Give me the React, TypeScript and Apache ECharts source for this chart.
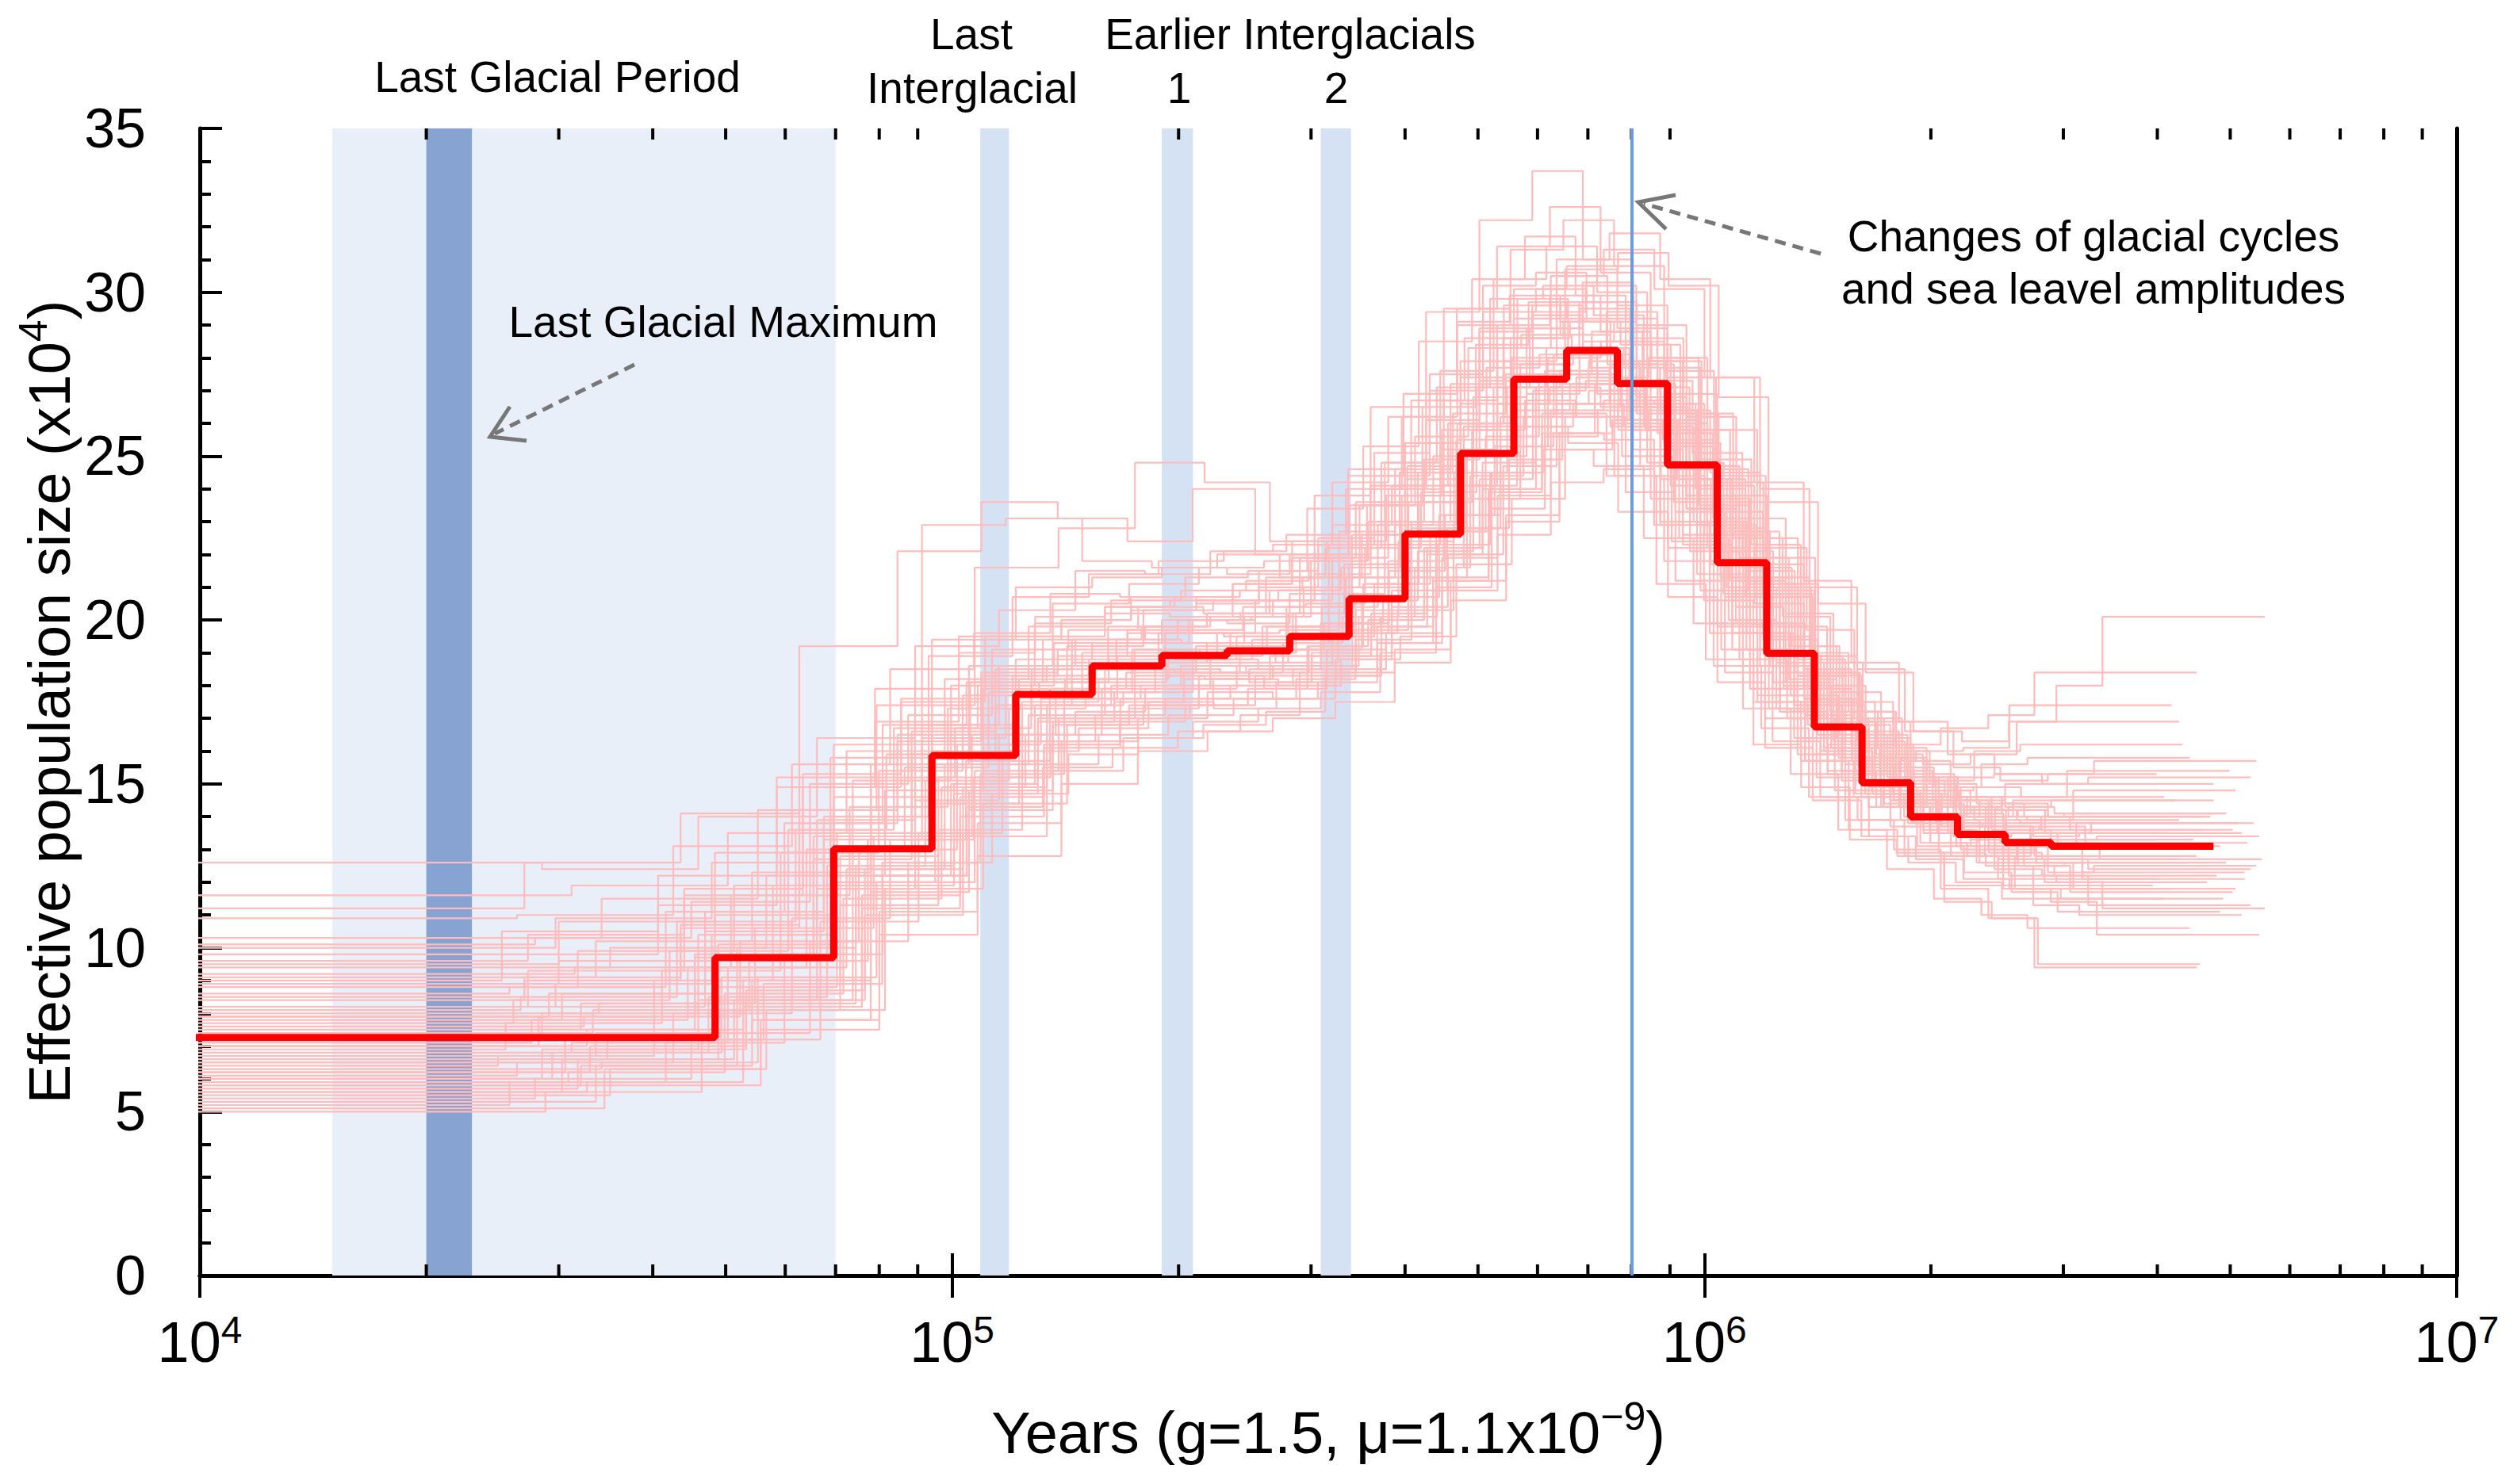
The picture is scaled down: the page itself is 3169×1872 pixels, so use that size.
import { useEffect, useRef } from 'react';
import * as echarts from 'echarts';

const FONT = "'Liberation Sans', Arial, Helvetica, sans-serif";

// main PSMC curve: step edges in years, Ne in units of 10^4
const redEdges = [
  5000, 48400, 69600, 94000, 121500, 153500, 190000, 232000, 281000, 337000, 400000, 474000, 558000,
  656000, 766000, 893000, 1040000, 1210000, 1400000, 1620000, 1880000, 2170000, 2510000, 2890000, 4750000,
];
const redValues = [
  7.26, 9.7, 13.02, 15.87, 17.73, 18.6, 18.92, 19.06, 19.5, 20.65, 22.62, 25.08, 27.35, 28.23, 27.22,
  24.73, 21.75, 18.98, 16.74, 15.03, 13.99, 13.46, 13.21, 13.1,
];

// bootstrap replicates: shared step edges, a time scale per replicate, values read per replicate
const bootEdges = [
  5000, 30000, 48400, 69600, 94000, 121500, 153500, 190000, 232000, 281000, 337000, 400000, 474000, 558000,
  656000, 766000, 893000, 1040000, 1210000, 1400000, 1620000, 1880000, 2170000, 2510000, 2890000, 4750000,
];
const bootScales = [
  1.1, 0.9, 1.12, 0.93, 0.85, 1.06, 0.97, 1.15, 0.88, 1.02,
  1.08, 0.83, 1.0, 0.94, 1.17, 0.95, 0.98, 1.13, 0.96, 0.86,
  1.04, 1.11, 0.91, 1.03, 0.87, 1.14, 1.05, 0.92, 1.09, 0.99,
  0.9, 1.17, 0.95, 1.01, 1.07, 0.84, 1.12, 0.94, 1.16, 0.89,
  1.0, 0.93, 1.06, 0.88, 1.14, 0.97, 1.09, 0.91, 1.02, 1.12,
  0.86, 1.04, 0.95, 1.1, 0.99, 1.15, 0.9, 1.07, 0.84, 1.01,
];
const bootValues = [
  [6.2, 6.9, 8.7, 12.4, 14.9, 17.4, 17.8, 18.8, 18.5, 19.9, 20.1, 22.7, 24.5, 27.6, 27.4, 28.0, 24.6, 22.5, 18.8, 17.5, 14.7, 14.5, 12.9, 13.2, 12.1],
  [8.4, 9.1, 10.6, 14.2, 16.3, 18.4, 18.9, 19.7, 19.6, 20.6, 21.4, 24.0, 26.1, 28.8, 29.3, 28.3, 25.2, 22.3, 19.1, 17.2, 15.3, 14.7, 14.1, 14.2, 13.9],
  [5.3, 6.4, 7.8, 11.7, 14.2, 16.8, 17.3, 18.3, 18.0, 19.1, 19.6, 21.9, 23.8, 26.4, 26.7, 26.6, 24.1, 21.7, 18.5, 16.6, 14.3, 13.7, 12.4, 12.2, 11.3],
  [10.1, 10.3, 11.4, 15.0, 17.1, 19.1, 19.7, 20.4, 20.2, 21.3, 22.2, 24.8, 27.1, 29.8, 30.2, 29.3, 25.9, 23.0, 19.6, 17.7, 15.8, 15.5, 14.9, 15.6, 15.8],
  [6.9, 7.7, 9.3, 12.9, 15.4, 17.7, 18.1, 18.9, 18.8, 19.5, 20.2, 22.6, 24.7, 27.4, 27.8, 27.2, 24.4, 21.8, 18.6, 16.7, 14.6, 13.9, 12.8, 12.8, 12.1],
  [5.7, 6.6, 8.4, 12.2, 15.0, 17.4, 18.0, 18.6, 18.4, 19.2, 20.0, 22.2, 24.3, 27.0, 27.3, 26.8, 23.8, 21.2, 18.1, 16.3, 14.3, 13.6, 12.6, 12.5, 11.7],
  [7.9, 8.2, 10.5, 13.3, 16.4, 17.7, 19.0, 19.0, 19.6, 19.7, 21.3, 23.0, 26.0, 27.9, 29.2, 27.8, 25.7, 22.2, 19.8, 17.1, 15.8, 14.4, 14.3, 13.7, 14.0],
  [5.1, 5.8, 7.5, 11.1, 13.8, 16.3, 17.0, 17.8, 17.6, 18.4, 19.1, 21.2, 23.2, 25.7, 26.1, 25.8, 23.1, 20.7, 17.6, 15.8, 13.8, 13.1, 11.8, 11.4, 10.4],
  [10.9, 11.0, 13.1, 15.6, 18.5, 19.6, 20.8, 20.7, 21.3, 21.5, 23.4, 25.3, 28.5, 30.4, 31.7, 29.9, 27.2, 23.3, 20.7, 17.9, 16.8, 15.7, 16.0, 16.1, 17.4],
  [6.5, 7.3, 9.1, 12.8, 15.2, 17.5, 18.2, 19.0, 19.0, 19.8, 20.6, 23.0, 25.1, 27.8, 28.3, 27.8, 24.8, 22.1, 18.9, 17.0, 14.9, 14.4, 13.4, 13.5, 13.1],
  [7.6, 7.9, 10.2, 13.0, 16.2, 17.6, 18.9, 18.8, 19.4, 19.5, 21.1, 22.7, 25.6, 27.5, 28.8, 27.3, 25.1, 21.6, 19.2, 16.5, 15.2, 13.8, 13.7, 13.2, 13.8],
  [6.4, 6.7, 9.0, 11.9, 15.2, 16.7, 18.1, 18.1, 18.7, 18.7, 20.2, 21.7, 24.5, 26.3, 27.5, 26.3, 24.4, 21.1, 18.8, 16.2, 14.9, 13.3, 12.9, 11.9, 11.9],
  [8.9, 9.6, 11.0, 14.6, 16.8, 18.8, 19.3, 20.0, 19.9, 20.8, 21.7, 24.3, 26.6, 29.2, 29.7, 28.9, 25.7, 22.8, 19.5, 17.6, 15.6, 15.2, 14.5, 15.0, 15.0],
  [7.3, 7.5, 9.8, 12.7, 15.9, 17.4, 18.7, 18.7, 19.3, 19.3, 20.8, 22.3, 25.2, 27.1, 28.3, 26.9, 24.8, 21.4, 19.1, 16.4, 15.1, 13.7, 13.5, 12.8, 13.1],
  [5.5, 6.3, 8.1, 11.8, 14.4, 16.8, 17.4, 18.2, 18.0, 18.8, 19.5, 21.7, 23.7, 26.2, 26.6, 26.3, 23.6, 21.1, 18.0, 16.2, 14.1, 13.4, 12.2, 12.0, 11.2],
  [12.6, 12.4, 14.0, 16.4, 19.2, 20.3, 21.5, 21.4, 22.1, 22.3, 24.2, 26.2, 29.5, 31.4, 32.6, 30.6, 27.7, 23.7, 21.1, 18.3, 17.2, 16.2, 16.7, 17.1, 18.4],
  [6.0, 6.8, 8.5, 12.5, 15.1, 17.3, 17.8, 18.5, 18.4, 19.3, 20.1, 22.4, 24.5, 27.1, 27.6, 27.2, 24.3, 21.7, 18.6, 16.8, 14.7, 14.0, 12.8, 12.7, 12.0],
  [8.0, 8.3, 10.6, 13.4, 16.5, 17.8, 19.1, 19.1, 19.8, 19.9, 21.5, 23.2, 26.2, 28.1, 29.4, 28.0, 25.8, 22.2, 19.7, 17.0, 15.7, 14.3, 14.2, 13.5, 13.8],
  [5.0, 5.6, 7.2, 10.8, 13.5, 16.0, 16.7, 17.5, 17.3, 18.1, 18.8, 20.9, 22.8, 25.3, 25.7, 25.5, 22.9, 20.6, 17.5, 15.7, 13.6, 12.8, 11.4, 10.9, 9.5],
  [8.6, 8.8, 11.1, 13.8, 16.8, 18.1, 19.4, 19.4, 20.0, 20.2, 21.9, 23.6, 26.7, 28.6, 29.8, 28.2, 25.8, 22.2, 19.8, 17.0, 15.9, 14.6, 14.6, 14.1, 14.6],
  [6.8, 7.1, 9.4, 12.4, 15.6, 17.1, 18.5, 18.4, 19.1, 19.1, 20.6, 22.1, 25.0, 26.9, 28.1, 26.7, 24.6, 21.2, 18.9, 16.2, 14.9, 13.5, 13.3, 12.5, 12.6],
  [7.4, 8.1, 9.6, 13.3, 15.7, 17.9, 18.4, 19.2, 19.1, 19.9, 20.7, 23.2, 25.3, 28.0, 28.5, 27.9, 24.9, 22.3, 19.0, 17.2, 15.1, 14.6, 13.6, 13.7, 13.2],
  [9.6, 10.4, 11.8, 15.3, 17.5, 19.5, 20.0, 20.7, 20.5, 21.5, 22.5, 25.1, 27.5, 30.2, 30.6, 29.7, 26.3, 23.4, 19.9, 18.0, 16.1, 15.8, 15.1, 16.0, 16.2],
  [5.9, 6.2, 8.6, 11.5, 14.9, 16.5, 17.9, 17.9, 18.6, 18.6, 20.1, 21.6, 24.4, 26.2, 27.4, 26.1, 24.3, 21.0, 18.7, 16.1, 14.8, 13.2, 12.8, 11.8, 11.5],
  [7.7, 8.4, 9.9, 13.6, 15.9, 18.1, 18.6, 19.4, 19.3, 20.1, 21.0, 23.5, 25.6, 28.3, 28.7, 28.1, 25.0, 22.4, 19.1, 17.3, 15.2, 14.7, 13.8, 14.0, 13.5],
  [6.3, 6.5, 9.1, 12.0, 15.4, 17.0, 18.3, 18.2, 18.9, 18.9, 20.4, 22.0, 24.7, 26.6, 27.7, 26.4, 24.5, 21.3, 18.9, 16.3, 14.9, 13.4, 13.2, 12.3, 12.5],
  [9.2, 9.4, 11.6, 14.3, 17.3, 18.5, 19.8, 19.7, 20.4, 20.5, 22.2, 23.9, 27.1, 28.9, 30.3, 28.6, 26.3, 22.5, 20.1, 17.2, 16.1, 14.8, 14.9, 14.6, 15.4],
  [7.1, 7.8, 9.4, 13.0, 15.5, 17.8, 18.2, 19.1, 18.9, 19.8, 20.4, 22.9, 25.0, 27.7, 28.1, 27.7, 24.7, 22.1, 18.8, 17.0, 14.8, 14.3, 13.2, 13.3, 12.6],
  [5.6, 5.9, 8.2, 11.2, 14.6, 16.2, 17.6, 17.6, 18.3, 18.3, 19.8, 21.2, 24.0, 25.7, 27.0, 25.8, 24.0, 20.7, 18.4, 15.8, 14.5, 12.9, 12.5, 11.3, 11.0],
  [8.2, 8.9, 10.4, 14.0, 16.2, 18.3, 18.8, 19.6, 19.5, 20.4, 21.3, 23.8, 26.0, 28.6, 29.1, 28.5, 25.3, 22.6, 19.4, 17.5, 15.5, 15.0, 14.3, 14.4, 14.0],
  [11.2, 12.6, 14.1, 19.2, 22.1, 23.6, 23.1, 22.4, 24.0, 22.0, 23.8, 26.5, 29.4, 32.2, 33.7, 31.0, 27.9, 24.3, 20.8, 18.4, 16.9, 15.9, 15.6, 15.9, 16.9],
  [9.4, 10.0, 12.2, 14.8, 17.9, 19.2, 20.3, 20.6, 20.9, 21.6, 22.9, 25.5, 28.0, 30.7, 31.2, 30.2, 26.8, 23.6, 20.5, 18.4, 16.6, 16.3, 16.9, 18.0, 20.1],
  [6.0, 6.9, 8.4, 11.8, 14.5, 16.5, 17.2, 17.9, 18.2, 18.6, 19.6, 21.8, 24.1, 26.6, 27.1, 26.5, 23.7, 20.9, 17.9, 15.9, 13.9, 13.0, 11.8, 10.9, 9.4],
  [7.8, 8.6, 10.1, 13.5, 16.0, 18.2, 18.5, 19.6, 19.2, 20.2, 21.0, 23.6, 25.9, 28.6, 29.1, 28.4, 25.4, 22.7, 19.4, 17.4, 15.4, 14.9, 14.0, 14.3, 14.1],
  [5.8, 6.4, 8.3, 11.9, 14.7, 16.9, 17.5, 18.4, 18.1, 18.9, 19.8, 22.0, 24.0, 26.6, 27.0, 26.5, 23.7, 21.3, 18.2, 16.4, 14.4, 13.9, 12.6, 12.6, 11.8],
  [9.0, 9.8, 11.3, 14.9, 16.9, 19.0, 19.5, 20.2, 20.1, 21.1, 21.9, 24.6, 26.9, 29.5, 29.9, 29.1, 25.9, 23.0, 19.6, 17.7, 15.7, 15.3, 14.6, 15.2, 15.3],
  [6.7, 7.4, 9.0, 12.2, 14.8, 16.9, 17.4, 18.0, 17.9, 18.5, 19.3, 20.9, 22.6, 24.2, 24.6, 24.4, 22.6, 20.5, 17.9, 16.2, 14.5, 13.8, 12.9, 12.7, 12.4],
  [7.0, 7.9, 9.7, 13.4, 16.6, 18.5, 19.4, 19.8, 20.2, 20.9, 22.3, 24.8, 27.6, 30.4, 31.4, 30.0, 26.4, 23.0, 19.6, 17.4, 15.4, 14.5, 13.7, 13.5, 13.3],
  [6.6, 7.2, 8.9, 12.6, 15.3, 17.6, 18.0, 19.0, 18.7, 19.6, 20.3, 22.8, 24.9, 27.5, 27.9, 27.4, 24.4, 21.9, 18.7, 16.9, 14.8, 14.2, 13.1, 13.2, 12.7],
  [8.1, 8.5, 10.8, 13.6, 16.7, 18.0, 19.3, 19.3, 20.0, 20.1, 21.8, 23.5, 26.5, 28.4, 29.7, 28.3, 26.1, 22.5, 20.0, 17.3, 16.0, 14.7, 14.6, 14.0, 14.5],
  [9.5, 10.8, 12.9, 16.2, 19.4, 21.0, 21.3, 21.6, 21.4, 22.0, 23.5, 25.4, 27.9, 30.1, 30.8, 29.6, 26.9, 23.8, 20.9, 18.3, 16.4, 15.2, 14.6, 14.3, 14.5],
  [5.4, 6.0, 7.4, 10.2, 12.6, 14.7, 15.9, 16.4, 16.8, 17.2, 18.3, 20.1, 22.3, 24.5, 25.2, 24.7, 22.5, 19.9, 17.3, 15.3, 13.6, 12.4, 11.5, 11.0, 10.6],
  [8.8, 9.9, 11.9, 15.1, 18.0, 19.9, 20.6, 20.9, 21.2, 21.8, 23.0, 24.9, 27.3, 29.4, 30.2, 29.0, 26.2, 23.1, 20.2, 17.8, 16.0, 15.0, 14.4, 14.0, 13.6],
  [6.1, 6.5, 8.0, 10.9, 13.3, 15.2, 16.2, 16.9, 17.4, 17.9, 19.2, 21.1, 23.6, 25.8, 26.7, 26.2, 23.9, 21.2, 18.4, 16.3, 14.6, 13.4, 12.7, 12.1, 11.8],
  [10.3, 11.5, 14.2, 17.4, 21.6, 22.8, 24.8, 24.2, 22.4, 22.9, 24.1, 26.0, 28.6, 31.0, 31.8, 30.4, 27.4, 24.0, 21.0, 18.5, 16.6, 15.5, 15.1, 15.3, 15.7],
  [7.9, 8.6, 11.1, 14.0, 22.9, 23.1, 21.8, 21.6, 22.0, 21.3, 22.7, 24.6, 27.2, 29.6, 30.5, 29.2, 26.0, 22.9, 19.9, 17.6, 15.7, 14.7, 14.0, 13.8, 13.6],
  [7.0, 7.5, 9.0, 11.6, 14.0, 16.1, 17.0, 17.4, 17.6, 18.1, 19.3, 21.3, 23.9, 26.3, 27.2, 26.6, 24.3, 21.5, 18.9, 16.8, 15.2, 14.3, 13.7, 13.4, 13.5],
  [8.2, 9.3, 11.6, 14.9, 17.6, 19.4, 20.0, 20.3, 20.6, 21.0, 22.3, 24.4, 27.0, 29.4, 30.1, 29.1, 26.5, 23.4, 20.4, 17.9, 16.1, 15.0, 14.3, 13.9, 13.8],
  [6.2, 6.8, 8.1, 11.3, 13.6, 15.6, 16.5, 17.1, 17.6, 18.2, 19.4, 21.3, 23.7, 25.9, 26.6, 25.9, 23.6, 20.8, 18.1, 16.0, 14.3, 13.1, 12.3, 11.7, 11.1],
  [9.1, 10.2, 12.3, 15.6, 18.6, 20.5, 21.1, 21.6, 21.8, 22.4, 23.8, 25.8, 28.3, 30.5, 31.3, 30.1, 27.4, 24.2, 21.2, 18.7, 16.9, 15.9, 15.3, 15.0, 15.2],
  [5.2, 5.9, 7.1, 9.8, 12.2, 14.3, 15.5, 16.1, 16.6, 17.1, 18.4, 20.3, 22.8, 25.0, 25.9, 25.4, 23.3, 20.7, 18.1, 16.1, 14.5, 13.4, 12.6, 12.0, 11.5],
  [11.6, 11.9, 13.5, 16.0, 18.2, 19.8, 20.4, 20.7, 20.9, 21.3, 22.6, 24.5, 26.8, 28.9, 29.5, 28.4, 25.8, 22.7, 19.8, 17.5, 15.8, 14.8, 14.2, 14.0, 14.1],
  [7.2, 8.0, 10.4, 13.9, 16.8, 18.6, 19.4, 19.8, 20.1, 20.6, 21.9, 24.0, 26.7, 29.0, 29.9, 28.8, 26.1, 22.9, 19.9, 17.5, 15.6, 14.5, 13.7, 13.2, 12.8],
  [6.5, 7.0, 8.4, 11.0, 13.4, 15.4, 16.4, 16.9, 17.3, 17.8, 19.0, 21.0, 23.4, 25.6, 26.4, 25.8, 23.5, 20.9, 18.3, 16.3, 14.7, 13.7, 13.0, 12.6, 12.3],
  [10.0, 10.9, 12.6, 15.8, 18.9, 20.7, 21.4, 21.8, 22.1, 22.6, 24.0, 26.2, 29.0, 31.3, 32.2, 30.8, 27.6, 24.2, 21.0, 18.4, 16.4, 15.3, 14.6, 14.2, 14.0],
  [5.8, 6.3, 7.8, 10.4, 12.8, 15.0, 16.0, 16.6, 17.0, 17.5, 18.7, 20.6, 23.0, 25.2, 26.0, 25.5, 23.3, 20.8, 18.4, 16.5, 15.0, 14.1, 13.6, 13.3, 13.4],
  [8.5, 9.0, 10.7, 13.8, 16.5, 18.3, 19.1, 19.6, 20.0, 20.6, 22.0, 24.1, 26.7, 28.9, 29.6, 28.5, 25.8, 22.6, 19.6, 17.2, 15.4, 14.3, 13.6, 13.1, 12.7],
  [7.5, 8.3, 10.0, 12.5, 15.0, 17.0, 17.8, 18.2, 18.5, 19.0, 20.2, 22.2, 24.8, 27.1, 27.9, 27.1, 24.7, 21.9, 19.2, 17.0, 15.4, 14.5, 14.0, 13.9, 14.8],
  [9.8, 10.5, 12.2, 15.2, 17.9, 19.5, 20.1, 20.4, 20.6, 21.1, 22.4, 24.4, 26.9, 29.1, 29.8, 28.7, 26.0, 22.9, 19.9, 17.5, 15.7, 14.6, 13.9, 13.5, 13.3],
  [5.6, 6.6, 8.8, 12.0, 14.4, 16.3, 17.1, 17.6, 18.0, 18.5, 19.7, 21.6, 24.1, 26.4, 27.2, 26.5, 24.1, 21.3, 18.6, 16.5, 14.8, 13.8, 13.0, 12.5, 12.2],
];

// shaded periods (years)
const glacialPeriod = [15000, 70000];
const glacialMaximum = [20000, 23000];
const interglacials = [
  [109000, 119000],
  [190000, 209000],
  [309000, 339000],
];
const transitionYear = 800000;

const xMinorTicks = [
  20000, 30000, 40000, 50000, 60000, 70000, 80000, 90000,
  200000, 300000, 400000, 500000, 600000, 700000, 800000, 900000,
  2000000, 3000000, 4000000, 5000000, 6000000, 7000000, 8000000, 9000000,
];

const stepPoints = (edges: number[], values: number[], scale = 1) => {
  const pts = values.map((v, i) => [edges[i] * scale, v]);
  pts.push([edges[values.length] * scale, values[values.length - 1]]);
  return pts;
};

export default function App() {
  const chartRef = useRef<HTMLDivElement>(null);

  useEffect(() => {
    if (!chartRef.current) return;
    const chart = echarts.init(chartRef.current, null, { renderer: 'svg' });

    const pinkSeries = bootValues.map((vals, i) => ({
      type: 'line',
      step: 'end',
      symbol: 'none',
      silent: true,
      z: 2,
      xAxisIndex: 0,
      yAxisIndex: 0,
      data: stepPoints(bootEdges, vals, bootScales[i]),
      lineStyle: { color: '#FFBCBC', width: 2.2 },
    }));

    const annText = (text: string, x: number, y: number) => ({
      type: 'text',
      x,
      y,
      z: 10,
      style: {
        text,
        fill: '#000',
        fontSize: 55,
        fontFamily: FONT,
        align: 'center',
        verticalAlign: 'middle',
      },
    });
    const arrowStyle = { stroke: '#777', lineWidth: 5 };
    const supRich = {
      t: { fontSize: 74, lineHeight: 90, fontFamily: FONT, color: '#000' },
      s: { fontSize: 50, lineHeight: 40, verticalAlign: 'top', fontFamily: FONT, color: '#000' },
    };

    const option: any = {
      animation: false,
      textStyle: { fontFamily: FONT, color: '#000' },
      grid: { left: 252, right: 71, top: 162, bottom: 263, outerBoundsMode: 'none' },
      xAxis: [
        {
          type: 'log',
          logBase: 10,
          min: 10000,
          max: 10000000,
          position: 'bottom',
          name: '{t|Years (g=1.5, μ=1.1x10}{s|−9}{t|)}',
          nameLocation: 'middle',
          nameGap: 153,
          nameMoveOverlap: false,
          nameTextStyle: { rich: supRich },
          axisLine: { lineStyle: { color: '#000', width: 5 } },
          axisTick: { inside: true, length: 28, lineStyle: { color: '#000', width: 4 } },
          splitLine: { show: false },
          axisLabel: {
            margin: 44,
            formatter: (v: number) => `{b|10}{s|${Math.round(Math.log10(v))}}`,
            rich: {
              b: { fontSize: 72, lineHeight: 80, fontFamily: FONT, color: '#000' },
              s: { fontSize: 48, lineHeight: 30, verticalAlign: 'top', fontFamily: FONT, color: '#000' },
            },
          },
        },
        {
          type: 'log',
          logBase: 10,
          min: 10000,
          max: 10000000,
          position: 'top',
          axisLine: { lineStyle: { color: '#000', width: 5 } },
          axisTick: { inside: true, length: 28, lineStyle: { color: '#000', width: 4 } },
          axisLabel: { show: false },
          splitLine: { show: false },
        },
      ],
      yAxis: [
        {
          type: 'value',
          min: 0,
          max: 35,
          interval: 5,
          name: '{t|Effective population size (x10}{s|4}{t|)}',
          nameLocation: 'middle',
          nameRotate: 90,
          nameGap: 145,
          nameMoveOverlap: false,
          nameTextStyle: { rich: supRich },
          axisLine: { show: true, lineStyle: { color: '#000', width: 5 } },
          axisTick: { show: true, inside: true, length: 28, lineStyle: { color: '#000', width: 4 } },
          minorTick: { show: true, splitNumber: 5, length: 14, lineStyle: { color: '#000', width: 4 } },
          splitLine: { show: false },
          minorSplitLine: { show: false },
          axisLabel: { fontSize: 70, margin: 68, color: '#000', fontFamily: FONT },
        },
        {
          type: 'value',
          min: 0,
          max: 35,
          position: 'right',
          axisLine: { show: true, lineStyle: { color: '#000', width: 5 } },
          axisTick: { show: false },
          axisLabel: { show: false },
          splitLine: { show: false },
        },
      ],
      series: [
        {
          type: 'line',
          data: [],
          z: 1,
          silent: true,
          markArea: {
            silent: true,
            data: [
              [{ xAxis: glacialPeriod[0], itemStyle: { color: '#E9EFF9' } }, { xAxis: glacialPeriod[1] }],
              [{ xAxis: glacialMaximum[0], itemStyle: { color: '#87A3D2' } }, { xAxis: glacialMaximum[1] }],
              ...interglacials.map((b) => [
                { xAxis: b[0], itemStyle: { color: '#D5E2F4' } },
                { xAxis: b[1] },
              ]),
            ],
          },
          markLine: {
            silent: true,
            symbol: 'none',
            label: { show: false },
            lineStyle: { color: '#6F9BDB', width: 4, type: 'solid' },
            data: [{ xAxis: transitionYear }],
          },
        },
        ...pinkSeries,
        {
          type: 'line',
          step: 'end',
          symbol: 'none',
          silent: true,
          z: 3,
          data: stepPoints(redEdges, redValues),
          lineStyle: { color: '#FF0000', width: 9 },
        },
        {
          type: 'custom',
          silent: true,
          z: 4,
          data: xMinorTicks.map((v) => [v, 0]),
          encode: { x: 0, y: 1 },
          renderItem: (params: any, api: any) => {
            const x = api.coord([api.value(0), 0])[0];
            const cs = params.coordSys;
            const top = cs.y;
            const bottom = cs.y + cs.height;
            return {
              type: 'group',
              children: [
                { type: 'line', shape: { x1: x, y1: bottom, x2: x, y2: bottom - 14 }, style: { stroke: '#000', lineWidth: 4 } },
                { type: 'line', shape: { x1: x, y1: top, x2: x, y2: top + 14 }, style: { stroke: '#000', lineWidth: 4 } },
              ],
            };
          },
        },
      ],
      graphic: [
        annText('Last Glacial Period', 703, 97),
        annText('Last', 1225, 43),
        annText('Interglacial', 1226, 111),
        annText('Earlier Interglacials', 1627, 43),
        annText('1', 1487, 111),
        annText('2', 1685, 111),
        annText('Last Glacial Maximum', 912, 406),
        annText('Changes of glacial cycles', 2640, 298),
        annText('and sea leavel amplitudes', 2640, 364),
        {
          type: 'line',
          z: 10,
          shape: { x1: 800, y1: 460, x2: 624, y2: 547 },
          style: { ...arrowStyle, lineDash: [14, 9] },
        },
        {
          type: 'polyline',
          z: 10,
          shape: { points: [[643, 513], [618, 551], [664, 556]] },
          style: { ...arrowStyle, fill: null },
        },
        {
          type: 'line',
          z: 10,
          shape: { x1: 2296, y1: 320, x2: 2073, y2: 257 },
          style: { ...arrowStyle, lineDash: [14, 9] },
        },
        {
          type: 'polyline',
          z: 10,
          shape: { points: [[2113, 246], [2066, 255], [2101, 289]] },
          style: { ...arrowStyle, fill: null },
        },
      ],
    };

    chart.setOption(option);

    const onResize = () => chart.resize();
    window.addEventListener('resize', onResize);
    return () => {
      window.removeEventListener('resize', onResize);
      chart.dispose();
    };
  }, []);

  return (
    <div
      ref={chartRef}
      style={{ position: 'absolute', left: 0, top: 0, width: 3169, height: 1872 }}
    />
  );
}
